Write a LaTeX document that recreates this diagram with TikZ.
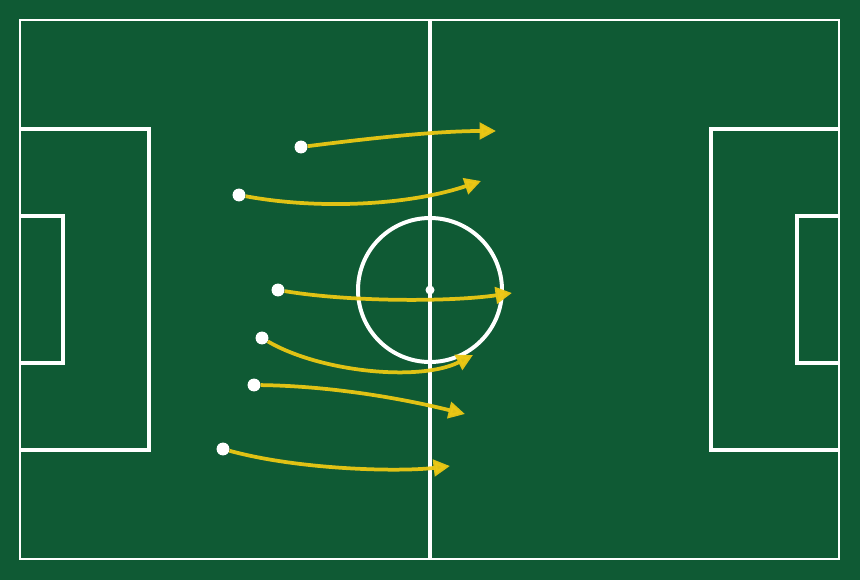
\documentclass[tikz,border=0pt]{standalone}
\usetikzlibrary{arrows.meta}

\definecolor{pitch}{HTML}{0F5A34}
\definecolor{runcol}{HTML}{ECC814}

\tikzset{
  line/.style={white,line width=3.4pt},
  player/.style={circle,fill=white,inner sep=0pt,minimum size=11pt},
  run/.style={runcol,opacity=0.95,line width=3.2pt,-{Triangle[length=14pt,width=14pt]}}
}

\begin{document}
\begin{tikzpicture}[x=0.03cm,y=-0.03cm]
\fill[pitch] (0,0) rectangle (860,580);
\useasboundingbox (0,0) rectangle (860,580);

% pitch
\draw[white,line width=2.2pt] (20,20) rectangle (839,559);
\draw[line] (430,20) -- (430,559);
\draw[line] (430,290) circle (72);
\fill[white] (430,290) circle (4.5);
\draw[line] (20,129) -- (149,129) -- (149,450) -- (20,450);
\draw[line] (20,216) -- (63,216) -- (63,363) -- (20,363);
\draw[line] (839,129) -- (711,129) -- (711,450) -- (839,450);
\draw[line] (839,216) -- (797,216) -- (797,363) -- (839,363);

% players
\node[player] (p1) at (301,147) {};
\node[player] (p2) at (239,195) {};
\node[player] (p3) at (278,290) {};
\node[player] (p4) at (262,338) {};
\node[player] (p5) at (254,385) {};
\node[player] (p6) at (223,449) {};

\coordinate (e1) at (496,131);
\coordinate (e2) at (481,181);
\coordinate (e3) at (512,293);
\coordinate (e4) at (473,355);
\coordinate (e5) at (465,414);
\coordinate (e6) at (450,466);

% runs
\draw[run] (p1) .. controls (380,137) and (440,131) .. (e1);
\draw[run] (p2) .. controls (320,210) and (410,205) .. (e2);
\draw[run] (p3) .. controls (350,302) and (450,302) .. (e3);
\draw[run] (p4) .. controls (320,372) and (420,382) .. (e4);
\draw[run] (p5) .. controls (330,386) and (400,398) .. (e5);
\draw[run] (p6) .. controls (300,470) and (400,472) .. (e6);
\end{tikzpicture}
\end{document}
